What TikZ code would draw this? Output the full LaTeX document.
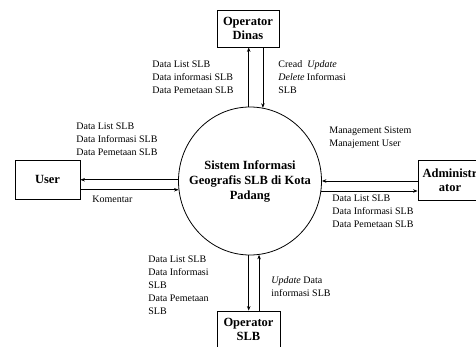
\documentclass[tikz,border=0pt]{standalone}
\usepackage{fontspec}
\setmainfont{Liberation Serif}
\usetikzlibrary{shapes.geometric,arrows.meta}
\begin{document}
\begin{tikzpicture}[x=1pt,y=-1pt,
  every path/.style={line width=0.8pt},
  >={Stealth[length=4.5pt,width=3.5pt]},
  entity/.style={draw,rectangle,inner sep=0pt,align=center,
    font=\fontsize{12.5}{14.5}\selectfont\bfseries},
  proc/.style={draw,ellipse,inner sep=0pt,minimum width=143pt,minimum height=148pt},
  proctext/.style={inner sep=0pt,align=center,font=\fontsize{12.5}{15}\selectfont\bfseries},
  lbl/.style={inner sep=0pt,anchor=west,align=left,font=\fontsize{10}{13}\selectfont}]
\useasboundingbox (0,0) rectangle (476,347);

\node[proc] (circ) at (250,181) {};
\node[proctext] (ctext) at (circ.center) {Sistem Informasi\\Geografis SLB di Kota\\Padang};
\node[entity,minimum width=62pt,minimum height=37pt] (dinas) at (248,28.5) {Operator\\Dinas};
\node[entity,minimum width=63pt,minimum height=37pt] (slb) at (248.5,329.5) {Operator\\SLB};
\node[entity,minimum width=65pt,minimum height=39pt] (user) at (47.5,179.5) {User};
\node[entity,minimum width=64pt,minimum height=40pt] (admin) at (450,180) {Administr\\ator};

% top
\draw[->] (circ.91) -- (circ.91 |- dinas.south);
\draw[->] (dinas.south -| circ.80.7) -- (circ.80.7);
% bottom
\draw[->] (circ.269) -- (circ.269 |- slb.north);
\draw[->] (slb.north -| circ.277) -- (circ.277);
% left
\draw[->] (circ.179.2) -- (circ.179.2 -| user.east);
\draw[->] (user.east |- circ.187.3) -- (circ.187.3);
% right
\draw[->] (admin.west |- circ.0) -- (circ.0);
\draw[->] (circ.352.7) -- (circ.352.7 -| admin.west);

% labels
\node[lbl] (l1) at (152,77) {Data List SLB\\Data informasi SLB\\Data Pemetaan SLB};
\node[lbl] (l2) at (278,77) {Cread\ \ \textit{Update}\\\textit{Delete} Informasi\\SLB};
\node[lbl] (l3) at (76,139) {Data List SLB\\Data Informasi SLB\\Data Pemetaan SLB};
\node[lbl] (l4) at (92,199) {Komentar};
\node[lbl] (l5) at (329,138) {Management Sistem\\Manajement User};
\node[lbl] (l6) at (332,211) {Data List SLB\\Data Informasi SLB\\Data Pemetaan SLB};
\node[lbl] (l7) at (148,285) {Data List SLB\\Data Informasi\\SLB\\Data Pemetaan\\SLB};
\node[lbl] (l8) at (271,286.5) {\textit{Update} Data\\informasi SLB};
\end{tikzpicture}
\end{document}
